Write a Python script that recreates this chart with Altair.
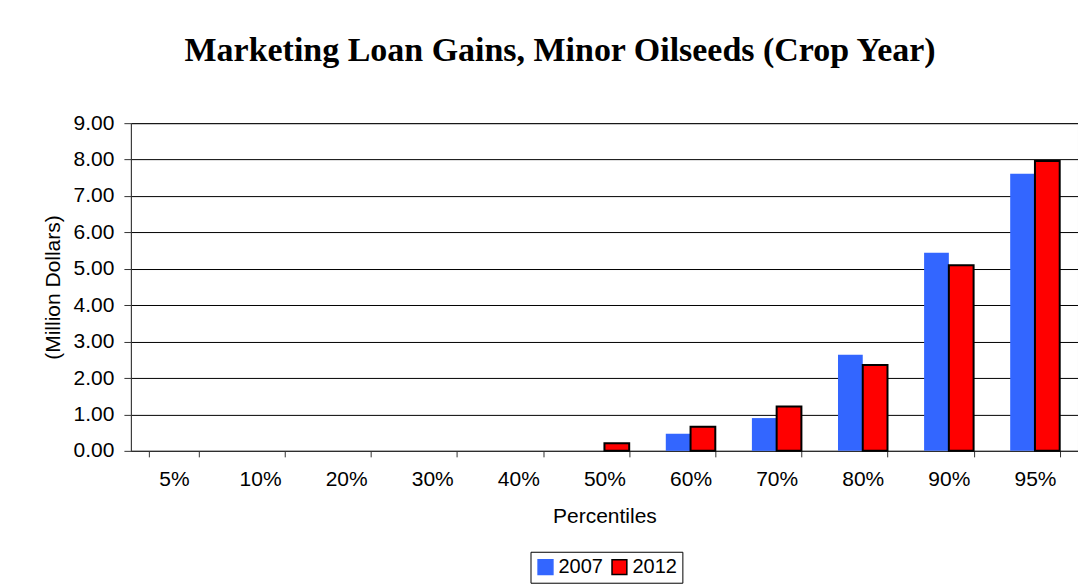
import altair as alt
import pandas as pd

categories = ["5%", "10%", "20%", "30%", "40%", "50%", "60%", "70%", "80%", "90%", "95%"]
v2007 = [0, 0, 0, 0, 0, 0, 0.47, 0.90, 2.64, 5.44, 7.61]
v2012 = [0, 0, 0, 0, 0, 0.21, 0.66, 1.22, 2.36, 5.10, 7.96]

rows = []
for c, a, b in zip(categories, v2007, v2012):
    rows.append({"pct": c, "year": "2007", "value": a})
    rows.append({"pct": c, "year": "2012", "value": b})
df = pd.DataFrame(rows)

font = "Liberation Sans"

chart = alt.Chart(df).mark_bar().encode(
    x=alt.X("pct:N", sort=categories, title="Percentiles",
            scale=alt.Scale(paddingInner=0.425, paddingOuter=0.2125),
            axis=alt.Axis(labelAngle=0, tickBand="extent", domainColor="#333333",
                          tickColor="#333333", tickSize=6, labelPadding=12,
                          titlePadding=16, grid=False)),
    xOffset=alt.XOffset("year:N"),
    y=alt.Y("value:Q", title="(Million Dollars)",
            scale=alt.Scale(domain=[0, 9]),
            axis=alt.Axis(values=[0, 1, 2, 3, 4, 5, 6, 7, 8, 9], format=".2f",
                          gridColor="#000000", gridOpacity=1, domainColor="#333333",
                          tickColor="#333333", tickSize=7, labelPadding=10,
                          titlePadding=10)),
    color=alt.Color("year:N", title=None,
                    scale=alt.Scale(domain=["2007", "2012"], range=["#3366FF", "#FF0000"]),
                    legend=alt.Legend(orient="none", direction="horizontal",
                                      legendX=400, legendY=429,
                                      strokeColor="#000000", padding=5,
                                      symbolType="square", symbolSize=220,
                                      symbolStrokeWidth=1.5, columnPadding=5,
                                      labelOffset=3, labelFontSize=20)),
    stroke=alt.Stroke("year:N", title=None,
                      scale=alt.Scale(domain=["2007", "2012"], range=["#3366FF", "#000000"]),
                      legend=None),
    strokeWidth=alt.condition("datum.value > 0 && datum.year == '2012'",
                              alt.value(2), alt.value(0)),
).properties(
    width=948, height=328,
    title=alt.TitleParams("Marketing Loan Gains, Minor Oilseeds (Crop Year)",
                          font="Liberation Serif", fontSize=34, fontWeight="bold",
                          anchor="middle", frame="bounds", offset=44, color="#000000"),
    padding={"left": 34, "top": 26, "right": 0, "bottom": 2},
).configure_view(stroke="#808080").configure_axis(
    labelFont=font, titleFont=font, labelFontSize=21, titleFontSize=21,
    labelColor="#000000", titleColor="#000000", titleFontWeight="normal"
).configure_legend(labelFont=font, labelColor="#000000")

chart.save("out.html", embed_options={"renderer": "svg", "actions": False})
